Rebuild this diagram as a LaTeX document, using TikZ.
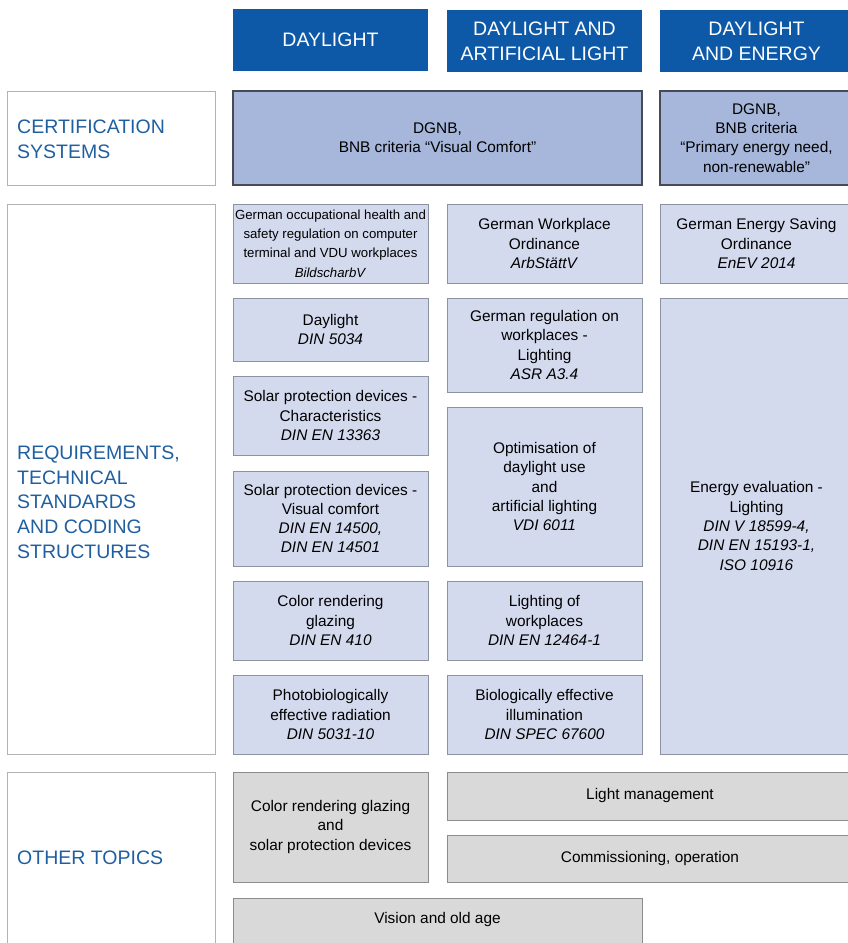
\documentclass[tikz,border=0pt]{standalone}
\usepackage{fontspec}
\setmainfont{Liberation Sans}
\usepackage{xcolor}
\definecolor{hdrblue}{RGB}{13,89,167}
\definecolor{lblblue}{RGB}{31,95,160}
\definecolor{certfill}{RGB}{166,183,219}
\definecolor{certdraw}{RGB}{70,75,85}
\definecolor{reqfill}{RGB}{212,218,238}
\definecolor{reqdraw}{RGB}{140,146,160}
\definecolor{grayfill}{RGB}{217,217,218}
\definecolor{graydraw}{RGB}{140,140,140}
\definecolor{framedraw}{RGB}{178,178,178}

\begin{document}
\begin{tikzpicture}[x=1pt,y=-1pt,
    every node/.style={inner sep=0pt, align=center, font=\fontsize{15.4}{19.3}\selectfont},
    header/.style={fill=hdrblue, text=white, font=\fontsize{19.5}{24.7}\selectfont, minimum height=62pt},
    certbox/.style={fill=certfill, draw=certdraw, line width=1.1pt, minimum height=94pt},
    reqbox/.style={fill=reqfill, draw=reqdraw, line width=0.8pt},
    graybox/.style={fill=grayfill, draw=graydraw, line width=0.8pt},
    frame/.style={draw=framedraw, line width=0.9pt, minimum width=208pt},
    lbl/.style={anchor=west, align=left, text=lblblue, font=\fontsize{19.5}{24.7}\selectfont}]
        \useasboundingbox (0,0) rectangle (847,943);

        % column headers
        \node[header, minimum width=195pt] (hdaylight) at (330.5,40) {DAYLIGHT};
        \node[header, minimum width=195pt] (hartificial) at (544.5,41) {DAYLIGHT AND\\ARTIFICIAL LIGHT};
        \node[header, minimum width=193pt] (henergy) at (756.5,41) {DAYLIGHT\\AND ENERGY};

        % row frames
        \node[frame, minimum height=94pt] (fcert) at (111,138) {};
        \node[frame, minimum height=550pt] (freq) at (111,479) {};
        \node[frame, minimum height=180pt] (fother) at (111,862) {};
        \node[lbl] (lcert) at (17,139) {CERTIFICATION\\SYSTEMS};
        \node[lbl] (lreq) at (17,502) {REQUIREMENTS,\\TECHNICAL\\STANDARDS\\AND CODING\\STRUCTURES};
        \node[lbl] (lother) at (17,857.5) {OTHER TOPICS};

        % certification systems
        \node[certbox, minimum width=409pt] (dgnbvis) at (437.5,138) {DGNB,\\BNB criteria “Visual Comfort”};
        \node[certbox, minimum width=193pt] (dgnbpen) at (756.5,138) {DGNB,\\BNB criteria\\“Primary energy need,\\non-renewable”};

        % requirements, daylight
        \node[reqbox, minimum width=195pt, minimum height=79pt, font=\fontsize{13.2}{19.3}\selectfont] (bildschirm) at (330.5,243.5)
            {German occupational health and\\safety regulation on computer\\terminal and VDU workplaces\\\textit{BildscharbV}};
        \node[reqbox, minimum width=195pt, minimum height=63pt] (din5034) at (330.5,329.5) {Daylight\\\textit{DIN 5034}};
        \node[reqbox, minimum width=195pt, minimum height=79pt] (din13363) at (330.5,415.5) {Solar protection devices -\\Characteristics\\\textit{DIN EN 13363}};
        \node[reqbox, minimum width=195pt, minimum height=95pt] (din14500) at (330.5,518.5) {Solar protection devices -\\Visual comfort\\\textit{DIN EN 14500,}\\\textit{DIN EN 14501}};
        \node[reqbox, minimum width=195pt, minimum height=79pt] (din410) at (330.5,620.5) {Color rendering\\glazing\\\textit{DIN EN 410}};
        \node[reqbox, minimum width=195pt, minimum height=79pt] (din5031) at (330.5,714.5) {Photobiologically\\effective radiation\\\textit{DIN 5031-10}};

        % requirements, daylight and artificial light
        \node[reqbox, minimum width=195pt, minimum height=79pt] (arbstaett) at (544.5,243.5) {German Workplace\\Ordinance\\\textit{ArbStättV}};
        \node[reqbox, minimum width=195pt, minimum height=94pt] (asr) at (544.5,345) {German regulation on\\workplaces -\\Lighting\\\textit{ASR A3.4}};
        \node[reqbox, minimum width=195pt, minimum height=159pt] (vdi) at (544.5,486.5) {Optimisation of\\daylight use\\and\\artificial lighting\\\textit{VDI 6011}};
        \node[reqbox, minimum width=195pt, minimum height=79pt] (din12464) at (544.5,620.5) {Lighting of\\workplaces\\\textit{DIN EN 12464-1}};
        \node[reqbox, minimum width=195pt, minimum height=79pt] (spec) at (544.5,714.5) {Biologically effective\\illumination\\\textit{DIN SPEC 67600}};

        % requirements, daylight and energy
        \node[reqbox, minimum width=193pt, minimum height=79pt] (enev) at (756.5,243.5) {German Energy Saving\\Ordinance\\\textit{EnEV 2014}};
        \node[reqbox, minimum width=193pt, minimum height=456pt] (eneval) at (756.5,526) {Energy evaluation -\\Lighting\\\textit{DIN V 18599-4,}\\\textit{DIN EN 15193-1,}\\\textit{ISO 10916}};

        % other topics
        \node[graybox, minimum width=195pt, minimum height=110pt] (glazing) at (330.5,827) {Color rendering glazing\\and\\solar protection devices};
        \node[graybox, minimum width=406pt, minimum height=48pt] (lightmgmt) at (650,796) {Light management};
        \node[graybox, minimum width=406pt, minimum height=47pt] (commission) at (650,858.5) {Commissioning, operation};
        \node[graybox, minimum width=409pt, minimum height=54pt] (vision) at (437.5,925) {};
        \node (visiontext) at (437.5,920) {Vision and old age};
    \end{tikzpicture}
\end{document}
